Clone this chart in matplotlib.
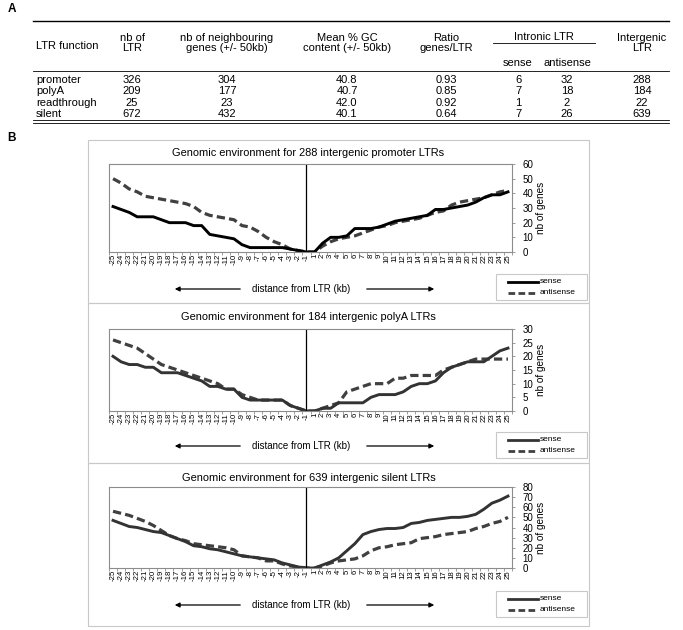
import matplotlib
matplotlib.use("Agg")
import matplotlib.pyplot as plt
from matplotlib.patches import Rectangle

plt.rcParams['font.family'] = ['Liberation Sans', 'DejaVu Sans']

W, H = 683, 630

# ---- table data (panel A) ----
ltr_function = ['promoter', 'polyA', 'readthrough', 'silent']
nb_ltr = ['326', '209', '25', '672']
nb_genes = ['304', '177', '23', '432']
mean_gc = ['40.8', '40.7', '42.0', '40.1']
ratio = ['0.93', '0.85', '0.92', '0.64']
intronic_sense = ['6', '7', '1', '7']
intronic_antisense = ['32', '18', '2', '26']
intergenic = ['288', '184', '22', '639']

# ---- line data (panel B) ----
distance = [str(d) for d in range(-25, 0)] + [str(d) for d in range(1, 26)]

promoter_sense = [31, 29, 27, 24, 24, 24, 22, 20, 20, 20, 18, 18, 12, 11, 10, 9, 5, 3, 3, 3, 3, 3, 2, 1, 0,
                  0, 6, 10, 10, 11, 16, 16, 16, 17, 19, 21, 22, 23, 24, 25, 29, 29, 30, 31, 32, 34, 37, 39, 39, 41]
promoter_antisense = [50, 47, 43, 41, 38, 37, 36, 35, 34, 33, 31, 27, 25, 24, 23, 22, 18, 17, 14, 10, 7, 5, 2, 1, 0,
                      0, 4, 7, 9, 10, 11, 13, 15, 17, 18, 20, 21, 22, 23, 25, 27, 28, 32, 34, 35, 36, 37, 39, 41, 42]

polya_sense = [20, 18, 17, 17, 16, 16, 14, 14, 14, 13, 12, 11, 9, 9, 8, 8, 5, 4, 4, 4, 4, 4, 2, 1, 0,
               0, 1, 1, 3, 3, 3, 3, 5, 6, 6, 6, 7, 9, 10, 10, 11, 14, 16, 17, 18, 18, 18, 20, 22, 23]
polya_antisense = [26, 25, 24, 23, 21, 19, 17, 16, 15, 14, 13, 12, 11, 10, 8, 8, 6, 5, 4, 4, 4, 4, 2, 1, 0,
                   0, 1, 2, 3, 7, 8, 9, 10, 10, 10, 12, 12, 13, 13, 13, 13, 15, 16, 17, 18, 19, 19, 19, 19, 19]

silent_sense = [47, 44, 41, 40, 38, 36, 35, 32, 29, 26, 22, 21, 19, 18, 16, 14, 12, 11, 10, 9, 8, 5, 3, 1, 0,
                0, 3, 6, 10, 17, 24, 33, 36, 38, 39, 39, 40, 44, 45, 47, 48, 49, 50, 50, 51, 53, 58, 64, 67, 71]
silent_antisense = [56, 54, 52, 49, 46, 42, 37, 32, 29, 27, 24, 23, 22, 21, 20, 18, 12, 11, 10, 7, 7, 4, 2, 1, 0,
                    0, 2, 5, 7, 8, 9, 12, 17, 20, 21, 23, 24, 25, 29, 30, 31, 33, 34, 35, 36, 39, 41, 44, 46, 50]

titles = ['Genomic environment for 288 intergenic promoter LTRs',
          'Genomic environment for 184 intergenic polyA LTRs',
          'Genomic environment for 639 intergenic silent LTRs']


def px_axes(fig, l, t, r, b):
    return fig.add_axes([l / W, 1 - b / H, (r - l) / W, (b - t) / H])


fig = plt.figure(figsize=(W / 100, H / 100), dpi=100)
ov = fig.add_axes([0, 0, 1, 1])
ov.set_xlim(0, W)
ov.set_ylim(H, 0)
ov.axis('off')

# ---------------- panel A: table ----------------
ov.text(8, 9, 'A', fontsize=8.5, fontweight='bold', ha='left', va='center')
fs = 8
ov.plot([33, 669], [21, 21], color='black', lw=1.0)
ov.plot([33, 669], [71, 71], color='black', lw=0.6)
ov.plot([493, 595], [43, 43], color='black', lw=0.6)
ov.plot([33, 669], [120, 120], color='black', lw=0.6)
ov.plot([33, 669], [122.5, 122.5], color='black', lw=0.6)

ov.text(36, 46, 'LTR function', fontsize=fs, ha='left', va='center')
headers = [(132, 'nb of\nLTR'), (227, 'nb of neighbouring\ngenes (+/- 50kb)'),
           (347, 'Mean % GC\ncontent (+/- 50kb)'), (446, 'Ratio\ngenes/LTR'),
           (642, 'Intergenic\nLTR')]
for x, lab in headers:
    ov.text(x, 43, lab, fontsize=fs, ha='center', va='center', linespacing=1.1)
ov.text(544, 37, 'Intronic LTR', fontsize=fs, ha='center', va='center')
ov.text(518, 63, 'sense', fontsize=fs, ha='center', va='center')
ov.text(567, 63, 'antisense', fontsize=fs, ha='center', va='center')

row_y = [80, 91.5, 103, 114]
cols = [nb_ltr, nb_genes, mean_gc, ratio, intronic_sense, intronic_antisense, intergenic]
col_x = [132, 227, 347, 446, 518, 567, 642]
for i, y in enumerate(row_y):
    ov.text(36, y, ltr_function[i], fontsize=fs, ha='left', va='center')
    for cx, col in zip(col_x, cols):
        ov.text(cx, y, col[i], fontsize=fs, ha='center', va='center')

# ---------------- panel B: line charts ----------------
ov.text(7, 138, 'B', fontsize=8.5, fontweight='bold', ha='left', va='center')

layout = [
    dict(box=(88, 140, 589, 303), title_y=153, plot=(109, 164, 512, 252), ymax=60, step=10,
         arrow_y=289, leg=(496, 274, 587, 300), sense_col='black'),
    dict(box=(88, 303, 589, 463), title_y=317, plot=(109, 329, 512, 411), ymax=30, step=5,
         arrow_y=446, leg=(496, 432, 587, 458), sense_col='#333333'),
    dict(box=(88, 463, 589, 626), title_y=478, plot=(109, 487, 512, 568), ymax=80, step=10,
         arrow_y=605, leg=(496, 591, 587, 617), sense_col='#333333'),
]
series = [(promoter_sense, promoter_antisense),
          (polya_sense, polya_antisense),
          (silent_sense, silent_antisense)]

grey = '#8c8c8c'
dash_col = '#404040'
xs = list(range(len(distance)))

for k, (lay, (sense, anti)) in enumerate(zip(layout, series)):
    l, t, r, b = lay['box']
    ov.add_patch(Rectangle((l, t), r - l, b - t, fill=False, ec='#c8c8c8', lw=0.8))
    pl, pt, pr, pb = lay['plot']
    ov.text((pl + pr) / 2 - 2, lay['title_y'], titles[k], fontsize=7.9, ha='center', va='center')

    ax = px_axes(fig, *lay['plot'])
    ax.set_facecolor('white')
    ax.plot(xs, anti, color=dash_col, lw=2.3, dashes=(2.6, 1.3), solid_capstyle='butt')
    ax.plot(xs, sense, color=lay['sense_col'], lw=2.1)
    ax.axvline(24, color='black', lw=0.9)
    ax.set_xlim(-0.5, len(xs) - 0.5)
    ax.set_ylim(0, lay['ymax'])
    for s in ax.spines.values():
        s.set_color(grey)
        s.set_linewidth(0.8)
    ax.set_xticks(xs)
    ax.set_xticklabels(distance, rotation=90, fontsize=5.6)
    ax.set_xticks([i - 0.5 for i in range(len(xs) + 1)], minor=True)
    ax.tick_params(axis='x', which='major', length=0, pad=1.5)
    ax.tick_params(axis='x', which='minor', length=2.5, color=grey, width=0.6)
    ax.yaxis.tick_right()
    ax.set_yticks(range(0, lay['ymax'] + 1, lay['step']))
    ax.tick_params(axis='y', length=2.5, color=grey, width=0.6, labelsize=7, pad=5)
    ax.yaxis.set_label_position('right')
    ax.set_ylabel('nb of genes', fontsize=7.2, labelpad=2)

    ay = lay['arrow_y']
    ov.text(301, ay, 'distance from LTR (kb)', fontsize=7, ha='center', va='center')
    ov.annotate('', xy=(172, ay), xytext=(243, ay),
                arrowprops=dict(arrowstyle='-|>', color='black', lw=0.9, mutation_scale=7))
    ov.annotate('', xy=(437, ay), xytext=(364, ay),
                arrowprops=dict(arrowstyle='-|>', color='black', lw=0.9, mutation_scale=7))

    ll, lt, lr, lb = lay['leg']
    ov.add_patch(Rectangle((ll, lt), lr - ll, lb - lt, fill=False, ec='#c8c8c8', lw=0.8))
    y1 = lt + (lb - lt) * 0.3
    y2 = lt + (lb - lt) * 0.72
    ov.plot([508, 538], [y1, y1], color=lay['sense_col'], lw=2.0)
    ov.plot([508, 538], [y2, y2], color=dash_col, lw=2.0, dashes=(2.4, 1.2))
    ov.text(540, y1, 'sense', fontsize=6, ha='left', va='center')
    ov.text(540, y2, 'antisense', fontsize=6, ha='left', va='center')

fig.savefig('out.png', dpi=100)
